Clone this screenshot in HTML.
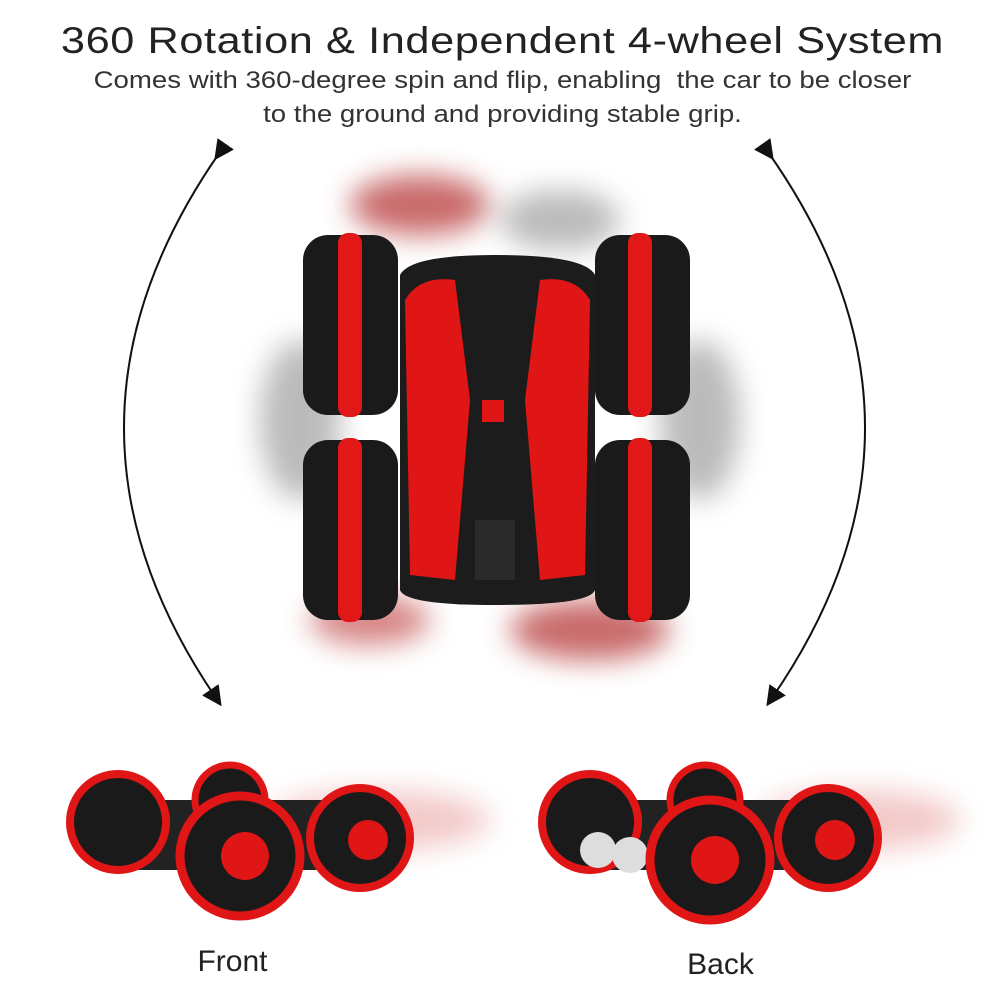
<!DOCTYPE html>
<html><head><meta charset="utf-8"><style>
html,body{margin:0;padding:0;background:#fff;}
.wrap{position:relative;width:1005px;height:1005px;overflow:hidden;font-family:"Liberation Sans","DejaVu Sans",sans-serif;}
.t{position:absolute;left:0;width:1005px;text-align:center;color:#222;}
</style></head><body><div class="wrap">
<div class="t" style="top:20px;font-size:37px;letter-spacing:0.5px;transform:scaleX(1.17);">360 Rotation &amp; Independent 4-wheel System</div>
<div class="t" style="top:67px;font-size:24px;color:#333;transform:scaleX(1.15);">Comes with 360-degree spin and flip, enabling&nbsp; the car to be closer</div>
<div class="t" style="top:101px;font-size:24px;color:#333;transform:scaleX(1.15);">to the ground and providing stable grip.</div>
<svg width="1005" height="1005" style="position:absolute;left:0;top:0">
<defs>
<filter id="b" x="-50%" y="-50%" width="200%" height="200%"><feGaussianBlur stdDeviation="14"/></filter>
<marker id="a" markerWidth="10" markerHeight="10" refX="5" refY="5" orient="auto"><path d="M0,0 L10,5 L0,10 z" fill="#111"/></marker>
</defs>
<path d="M220,152 Q30,425 216,698" fill="none" stroke="#111" stroke-width="2" marker-start="url(#a)" marker-end="url(#a)"/>
<path d="M768,152 Q960,425 772,698" fill="none" stroke="#111" stroke-width="2" marker-start="url(#a)" marker-end="url(#a)"/>
<g filter="url(#b)" opacity="0.8">
<ellipse cx="420" cy="205" rx="70" ry="30" fill="#b44"/>
<ellipse cx="560" cy="220" rx="60" ry="30" fill="#aaa"/>
<ellipse cx="590" cy="630" rx="80" ry="30" fill="#b44"/>
<ellipse cx="300" cy="420" rx="40" ry="80" fill="#aaa"/>
<ellipse cx="700" cy="420" rx="40" ry="80" fill="#aaa"/>
<ellipse cx="370" cy="620" rx="60" ry="25" fill="#c66"/>
</g>
<g>
<rect x="303" y="235" width="95" height="180" rx="25" fill="#1a1a1a"/>
<rect x="338" y="233" width="24" height="184" rx="10" fill="#e21818"/>
<rect x="303" y="440" width="95" height="180" rx="25" fill="#1a1a1a"/>
<rect x="338" y="438" width="24" height="184" rx="10" fill="#e21818"/>
<rect x="595" y="235" width="95" height="180" rx="25" fill="#1a1a1a"/>
<rect x="628" y="233" width="24" height="184" rx="10" fill="#e21818"/>
<rect x="595" y="440" width="95" height="180" rx="25" fill="#1a1a1a"/>
<rect x="628" y="438" width="24" height="184" rx="10" fill="#e21818"/>
</g>
<path d="M400,275 Q410,255 495,255 Q585,255 595,275 L595,590 Q590,605 495,605 Q405,605 400,590 Z" fill="#1c1c1c"/>
<path d="M405,300 Q420,275 455,280 L470,400 L455,580 L410,575 Z" fill="#e01515"/>
<path d="M590,300 Q575,275 540,280 L525,400 L540,580 L585,575 Z" fill="#e01515"/>
<rect x="482" y="400" width="22" height="22" fill="#e01515"/>
<rect x="475" y="520" width="40" height="60" fill="#2a2a2a"/>
<g>
<ellipse cx="380" cy="820" rx="110" ry="30" fill="#d66" opacity="0.35" filter="url(#b)"/>
<rect x="95" y="800" width="300" height="70" rx="30" fill="#222"/>
<circle cx="118" cy="822" r="48" fill="#1a1a1a" stroke="#e01515" stroke-width="8"/>
<circle cx="230" cy="800" r="35" fill="#1a1a1a" stroke="#e01515" stroke-width="7"/>
<circle cx="240" cy="856" r="60" fill="#1a1a1a" stroke="#e01515" stroke-width="9"/>
<circle cx="245" cy="856" r="24" fill="#e01515"/>
<circle cx="360" cy="838" r="50" fill="#1a1a1a" stroke="#e01515" stroke-width="8"/>
<circle cx="368" cy="840" r="20" fill="#e01515"/>
</g>
<g>
<ellipse cx="860" cy="820" rx="100" ry="30" fill="#d66" opacity="0.35" filter="url(#b)"/>
<rect x="570" y="800" width="290" height="70" rx="30" fill="#222"/>
<circle cx="590" cy="822" r="48" fill="#1a1a1a" stroke="#e01515" stroke-width="8"/>
<circle cx="705" cy="800" r="35" fill="#1a1a1a" stroke="#e01515" stroke-width="7"/>
<circle cx="598" cy="850" r="18" fill="#ddd"/><circle cx="630" cy="855" r="18" fill="#ddd"/>
<circle cx="710" cy="860" r="60" fill="#1a1a1a" stroke="#e01515" stroke-width="9"/>
<circle cx="715" cy="860" r="24" fill="#e01515"/>
<circle cx="828" cy="838" r="50" fill="#1a1a1a" stroke="#e01515" stroke-width="8"/>
<circle cx="835" cy="840" r="20" fill="#e01515"/>
</g>
</svg>
<div class="t" style="top:945px;left:-270px;font-size:30px;">Front</div>
<div class="t" style="top:948px;left:218px;font-size:30px;">Back</div>
</div></body></html>
